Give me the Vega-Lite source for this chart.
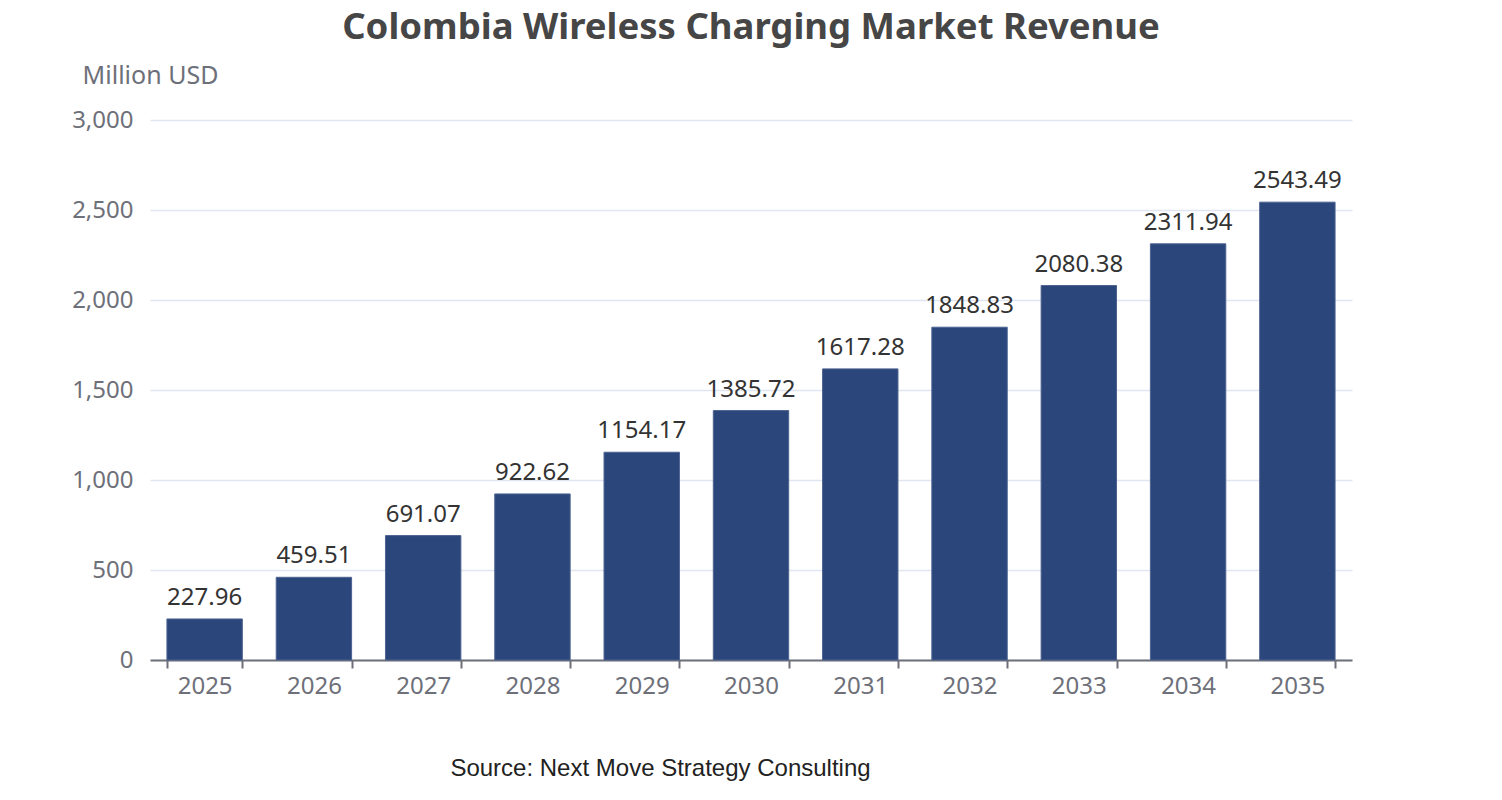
{
  "$schema": "https://vega.github.io/schema/vega-lite/v6.json",
  "autosize": {"type": "none"},
  "width": 1202,
  "height": 540,
  "padding": {"left": 150, "top": 120, "right": 150, "bottom": 140},
  "background": "#ffffff",
  "title": {
    "text": "Colombia Wireless Charging Market Revenue",
    "anchor": "middle",
    "font": "Noto Sans",
    "fontSize": 36.5,
    "fontWeight": "bold",
    "color": "#464646",
    "offset": 17
  },
  "data": {
    "values": [
      {"year": "2025", "revenue": 227.96},
      {"year": "2026", "revenue": 459.51},
      {"year": "2027", "revenue": 691.07},
      {"year": "2028", "revenue": 922.62},
      {"year": "2029", "revenue": 1154.17},
      {"year": "2030", "revenue": 1385.72},
      {"year": "2031", "revenue": 1617.28},
      {"year": "2032", "revenue": 1848.83},
      {"year": "2033", "revenue": 2080.38},
      {"year": "2034", "revenue": 2311.94},
      {"year": "2035", "revenue": 2543.49}
    ]
  },
  "encoding": {
    "x": {
      "field": "year",
      "type": "ordinal",
      "scale": {"paddingInner": 0.31, "paddingOuter": 0.155},
      "axis": {
        "title": "Source: Next Move Strategy Consulting",
        "titleFont": "Liberation Sans",
        "titleFontSize": 24,
        "titleFontWeight": "normal",
        "titleColor": "#222222",
        "titleX": 510,
        "titleY": 115,
        "titleAlign": "center",
        "titleBaseline": "alphabetic",
        "labelAngle": 0,
        "labelFont": "Noto Sans",
        "labelFontSize": 24,
        "labelColor": "#6e7079",
        "labelPadding": 6,
        "domainColor": "#6e7079",
        "domainWidth": 2,
        "tickColor": "#6e7079",
        "tickWidth": 2,
        "tickSize": 8,
        "tickBand": "extent",
        "grid": false
      }
    },
    "y": {
      "field": "revenue",
      "type": "quantitative",
      "scale": {"domain": [0, 3000]},
      "axis": {
        "title": "Million USD",
        "titleAngle": 0,
        "titleX": 0,
        "titleY": -37,
        "titleAlign": "center",
        "titleBaseline": "alphabetic",
        "titleFont": "Noto Sans",
        "titleFontSize": 25,
        "titleFontWeight": "normal",
        "titleColor": "#6e7079",
        "values": [0, 500, 1000, 1500, 2000, 2500, 3000],
        "format": ",.0f",
        "labelFont": "Noto Sans",
        "labelFontSize": 24,
        "labelColor": "#6e7079",
        "labelPadding": 17,
        "domain": false,
        "ticks": false,
        "grid": true,
        "gridColor": "#e0e6f1",
        "gridWidth": 1.5
      }
    }
  },
  "layer": [
    {
      "mark": {"type": "bar", "color": "#2b467a", "stroke": "#4d6391", "strokeWidth": 1}
    },
    {
      "mark": {
        "type": "text",
        "baseline": "alphabetic",
        "dy": -14,
        "font": "Noto Sans",
        "fontSize": 24,
        "color": "#333333"
      },
      "encoding": {"text": {"field": "revenue", "type": "quantitative", "format": ".2f"}}
    }
  ],
  "config": {"view": {"stroke": null}}
}
